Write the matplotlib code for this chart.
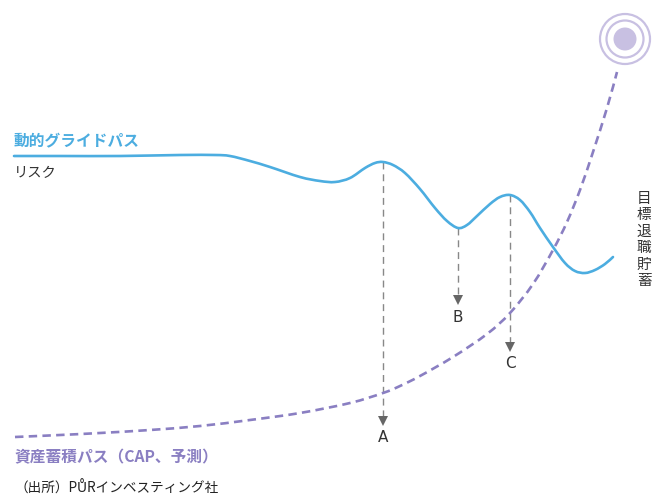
import matplotlib
matplotlib.use("Agg")
import matplotlib.pyplot as plt
from matplotlib.patches import Circle, Polygon, PathPatch
from matplotlib.path import Path

plt.rcParams['font.family'] = ['Noto Sans CJK JP', 'DejaVu Sans']

# glide path (risk), pixel-like units
risk_x = [14, 60, 120, 180, 215, 230, 250, 270, 300, 320, 335, 350, 365, 375, 383,
          393, 405, 420, 435, 447, 458, 467, 477, 490, 500, 510, 520, 530, 540, 553,
          565, 575, 585, 595, 605, 613]
risk_y = [156, 156, 156, 155, 155, 156, 161, 167, 177, 181, 182, 178, 168, 163, 162,
          165, 173, 189, 208, 221, 228, 225, 216, 204, 197, 195, 200, 212, 228, 247,
          263, 271, 273, 270, 264, 257]

# capital accumulation path
cap_x = [15, 60, 100, 150, 200, 250, 300, 350, 383, 400, 420, 453, 487, 510, 533,
         553, 567, 580, 593, 607, 617]
cap_y = [437, 435, 433, 430, 426, 420, 413, 403, 393, 386, 376, 357, 334, 313, 284,
         250, 222, 190, 152, 108, 72]

# marked points A, B, C
mark_names = ['A', 'B', 'C']
mark_x = [383, 458, 510]
mark_top = [162, 228, 195]
mark_tip = [426, 305, 352]
mark_label_y = [438, 317, 364]

goal = (625, 39)

blue = '#4cade0'
purple = '#8a7fc2'
light = '#c8c0e2'
grey = '#666666'


def smooth_path(xs, ys):
    # bezier path through the read points (catmull-rom style handles)
    pts = list(zip(xs, ys))
    verts = [pts[0]]
    codes = [Path.MOVETO]
    for i in range(len(pts) - 1):
        p0 = pts[max(i - 1, 0)]
        p1 = pts[i]
        p2 = pts[i + 1]
        p3 = pts[min(i + 2, len(pts) - 1)]
        c1 = (p1[0] + (p2[0] - p0[0]) / 6, p1[1] + (p2[1] - p0[1]) / 6)
        c2 = (p2[0] - (p3[0] - p1[0]) / 6, p2[1] - (p3[1] - p1[1]) / 6)
        verts += [c1, c2, p2]
        codes += [Path.CURVE4] * 3
    return Path(verts, codes)


fig = plt.figure(figsize=(6.6, 4.96), dpi=100)
ax = fig.add_axes([0, 0, 1, 1])
ax.set_xlim(0, 660)
ax.set_ylim(496, 0)
ax.axis('off')

ax.add_patch(PathPatch(smooth_path(risk_x, risk_y), fill=False, ec=blue, lw=1.9,
                       capstyle='round', zorder=3))
cap_patch = PathPatch(smooth_path(cap_x, cap_y), fill=False, ec=purple, lw=1.9, zorder=2)
cap_patch.set_linestyle((0, (3.2, 2.0)))
ax.add_patch(cap_patch)

for name, x, y0, y1, ly in zip(mark_names, mark_x, mark_top, mark_tip, mark_label_y):
    ax.plot([x, x], [y0, y1 - 8], color='#888888', lw=1.0, dashes=(5, 3.5), zorder=1)
    ax.add_patch(Polygon([[x - 5, y1 - 10], [x + 5, y1 - 10], [x, y1]],
                         closed=True, color=grey, lw=0, zorder=4))
    ax.text(x, ly, name, ha='center', va='center', fontsize=11,
            color='#333333', family=['DejaVu Sans'])

# goal target
ax.add_patch(Circle(goal, 11.5, color=light, lw=0, zorder=5))
ax.add_patch(Circle(goal, 18.5, fill=False, ec=light, lw=1.6, zorder=5))
ax.add_patch(Circle(goal, 25, fill=False, ec=light, lw=1.6, zorder=5))

ax.text(14, 141, '動的グライドパス', fontsize=11.3, fontweight='bold',
        color=blue, va='center', ha='left')
ax.text(14, 173, 'リスク', fontsize=10.3, color='#333333', va='center', ha='left')
ax.text(14, 457, '資産蓄積パス（CAP、予測）', fontsize=11.3, fontweight='bold',
        color=purple, va='center', ha='left')
ax.text(14, 488, '（出所）PŮRインベスティング社', fontsize=9.8, color='#222222',
        va='center', ha='left')
ax.text(644, 240, '\n'.join('目標退職貯蓄'), fontsize=10.5, color='#333333',
        va='center', ha='center', linespacing=1.22)

fig.savefig('out.png', dpi=100)
